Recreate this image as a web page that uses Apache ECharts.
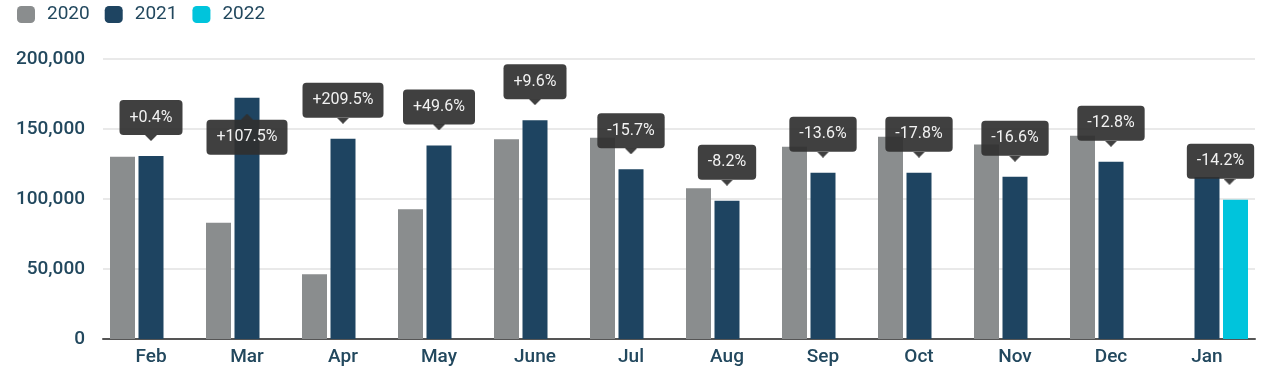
<!DOCTYPE html>
<html>
<head>
<meta charset="utf-8">
<script src="https://cdn.jsdelivr.net/npm/echarts@6/dist/echarts.min.js"></script>
<style>
  html, body { margin: 0; padding: 0; background: #fff; }
  #chart { width: 1284px; height: 376px; }
</style>
</head>
<body>
<div id="chart"></div>
<script>
const categories = ["Feb", "Mar", "Apr", "May", "June", "Jul", "Aug", "Sep", "Oct", "Nov", "Dec", "Jan"];
const sales2020 = [130200, 83100, 46200, 92600, 142600, 143800, 107600, 137400, 144500, 139000, 145200, null];
const sales2021 = [130700, 172400, 143000, 138300, 156300, 121200, 98800, 118800, 118800, 115900, 126600, 115800];
const sales2022 = [null, null, null, null, null, null, null, null, null, null, null, 99400];
const change2021 = ["+0.4%", "+107.5%", "+209.5%", "+49.6%", "+9.6%", "-15.7%", "-8.2%", "-13.6%", "-17.8%", "-16.6%", "-12.8%", null];
const change2022 = [null, null, null, null, null, null, null, null, null, null, null, "-14.2%"];
const yTicks = [0, 50000, 100000, 150000, 200000];

const textColor = "#22485e";
const calloutColor = "rgba(48,48,48,0.92)";

// small triangle drawn on a canvas, used as the callout pointer
function pointer(up) {
  const c = document.createElement("canvas");
  c.width = 12;
  c.height = 6;
  const ctx = c.getContext("2d");
  ctx.fillStyle = calloutColor;
  ctx.beginPath();
  if (up) {
    ctx.moveTo(6, 0);
    ctx.lineTo(12, 6);
    ctx.lineTo(0, 6);
  } else {
    ctx.moveTo(0, 0);
    ctx.lineTo(12, 0);
    ctx.lineTo(6, 6);
  }
  ctx.closePath();
  ctx.fill();
  return c;
}
const downImg = pointer(false);
const upImg = pointer(true);

// callout box + pointer, built as rich text on the bar label
function withCallouts(values, changes) {
  return values.map((v, i) => {
    if (!changes[i]) return v;
    const flip = categories[i] === "Mar"; // label sits over the bar, pointer up
    const atEdge = i === categories.length - 1; // box pushed left to stay in the plot
    const shift = atEdge ? 15 : 0;
    let text;
    if (flip) {
      text = "{up| }\n{box|" + changes[i] + "}";
    } else if (atEdge) {
      text = "{box|" + changes[i] + "}\n{gap| }{down| }";
    } else {
      text = "{box|" + changes[i] + "}\n{down| }";
    }
    return {
      value: v,
      label: {
        show: true,
        position: flip ? "insideTop" : "top",
        distance: flip ? 16 : 15,
        offset: [-shift, 0],
        formatter: text,
        rich: {
          box: {
            color: "#f2f2f2",
            fontFamily: "Roboto",
            fontSize: 16,
            lineHeight: 35,
            height: 35,
            padding: [0, 10],
            backgroundColor: calloutColor,
            borderRadius: 4,
          },
          gap: {
            width: shift * 2 - 12,
            height: 6,
            lineHeight: 6,
            fontSize: 1,
          },
          down: {
            width: 12,
            height: 6,
            lineHeight: 6,
            fontSize: 1,
            backgroundColor: { image: downImg },
          },
          up: {
            width: 12,
            height: 6,
            lineHeight: 6,
            fontSize: 1,
            backgroundColor: { image: upImg },
          },
        },
      },
    };
  });
}

const chart = echarts.init(document.getElementById("chart"));

chart.setOption({
  animation: false,
  textStyle: { fontFamily: "Roboto" },
  legend: {
    left: 12,
    top: 0,
    itemWidth: 18,
    itemHeight: 17,
    itemGap: 15,
    icon: "roundRect",
    textStyle: { color: textColor, fontSize: 19, padding: [0, 0, 0, 7] },
    data: ["2020", "2021", "2022"],
  },
  grid: {
    left: 103,
    right: 29,
    top: 59,
    bottom: 37,
  },
  xAxis: {
    type: "category",
    data: categories,
    axisTick: { show: false },
    axisLine: { lineStyle: { color: "#555", width: 2 } },
    axisLabel: { color: textColor, fontSize: 19, fontWeight: 500, margin: 9 },
  },
  yAxis: {
    type: "value",
    min: yTicks[0],
    max: yTicks[yTicks.length - 1],
    interval: yTicks[1] - yTicks[0],
    axisLine: { show: false },
    axisTick: { show: false },
    splitLine: { lineStyle: { color: "#e2e2e2", width: 1.5 } },
    axisLabel: {
      color: textColor,
      fontSize: 19,
      fontWeight: 500,
      margin: 18,
      formatter: (v) => v.toLocaleString("en-US"),
    },
  },
  series: [
    {
      name: "2020",
      type: "bar",
      barWidth: 25,
      barGap: "14%",
      itemStyle: { color: "#8a8d8e" },
      data: sales2020,
    },
    {
      name: "2021",
      type: "bar",
      barWidth: 25,
      barGap: "14%",
      itemStyle: { color: "#1e4461" },
      data: withCallouts(sales2021, change2021),
    },
    {
      name: "2022",
      type: "bar",
      barWidth: 25,
      barGap: "14%",
      itemStyle: { color: "#00c4dc" },
      data: withCallouts(sales2022, change2022),
    },
  ],
});
</script>
</body>
</html>
